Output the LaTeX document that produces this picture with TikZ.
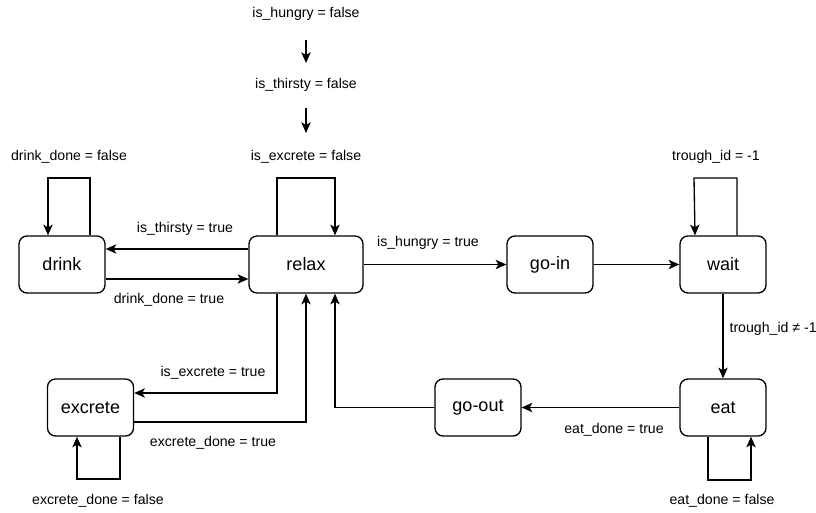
\documentclass[tikz,border=0pt]{standalone}
\usepackage{fontspec}
\setmainfont{Liberation Sans}
\usetikzlibrary{arrows.meta}
\begin{document}
\begin{tikzpicture}[x=0.75pt,y=-0.75pt,
  state/.style={draw, line width=1pt, rounded corners=6pt, minimum width=64.5pt, minimum height=42.75pt, inner sep=0pt, font=\fontsize{13.5}{16}\selectfont},
  lbl/.style={font=\fontsize{10.6}{13}\selectfont, inner sep=1pt},
  arr/.style={line width=1pt, -{Stealth[length=8pt,width=7pt,inset=2pt]}},
  ln/.style={line width=1pt}]
\useasboundingbox (0,0) rectangle (816,513);
% states
\node[state] (drink) at (62,264.5) {drink};
\node[state, minimum width=85.5pt] (relax) at (306,264.5) {relax};
\node[state] (goin) at (550,264.5) {go-in};
\node[state] (wait) at (723,264.5) {wait};
\node[state] (excrete) at (90.5,407.5) {excrete};
\node[state] (goout) at (478,407.5) {go-out};
\node[state] (eat) at (723,407.5) {eat};
% top chain
\node[lbl] (hungry) at (306,14) {is\_hungry = false};
\node[lbl] (thirsty) at (306,85) {is\_thirsty = false};
\node[lbl] (excf) at (306,157) {is\_excrete = false};
\coordinate (a1) at (306,40);
\coordinate (a2) at (306,63);
\coordinate (b1) at (306,108);
\coordinate (b2) at (306,133);
\draw[arr] (a1) -- (a2);
\draw[arr] (b1) -- (b2);
% relax self loop
\draw[arr] (relax.north -| 277,0) |- (335,178) -- (relax.north -| 335,0);
% drink self loop
\node[lbl] at (69,157) {drink\_done = false};
\draw[arr] (drink.north -| 90,0) |- (48,178) -- (drink.north -| 48,0);
% relax <-> drink
\draw[arr] (relax.west |- 0,249) -- (drink.east |- 0,249);
\node[lbl] at (185,229) {is\_thirsty = true};
\draw[arr] (drink.east |- 0,279) -- (relax.west |- 0,279);
\node[lbl] at (169,300) {drink\_done = true};
% relax -> go-in -> wait
\draw[arr] (relax.east) -- (goin.west);
\node[lbl] at (428,243) {is\_hungry = true};
\draw[arr] (goin.east) -- (wait.west);
% wait self loop
\node[lbl] at (716,157) {trough\_id = -1};
\draw[arr] (wait.north -| 737,0) |- (694,178) -- (wait.north -| 695,0);
% wait -> eat
\draw[arr] (wait.south) -- (eat.north);
\node[lbl, anchor=west] at (728,329) {trough\_id ≠ -1};
% eat -> go-out
\draw[arr] (eat.west) -- (goout.east);
\node[lbl] at (614,430) {eat\_done = true};
% eat self loop
\draw[arr] (eat.south -| 708,0) |- (751,480) -- (eat.south -| 751,0);
\node[lbl] at (722,501) {eat\_done = false};
% go-out -> relax
\draw[arr] (goout.west) -| (relax.south -| 335,0);
% relax -> excrete
\draw[arr] (relax.south -| 277,0) |- (excrete.east |- 0,393);
\node[lbl] at (213,373) {is\_excrete = true};
% excrete -> relax
\draw[arr] (excrete.east |- 0,422) -| (relax.south -| 306,0);
\node[lbl] at (213,443) {excrete\_done = true};
% excrete self loop
\draw[arr] (excrete.south -| 120,0) |- (77,479) -- (excrete.south -| 77,0);
\node[lbl] at (98,501) {excrete\_done = false};
\end{tikzpicture}
\end{document}
